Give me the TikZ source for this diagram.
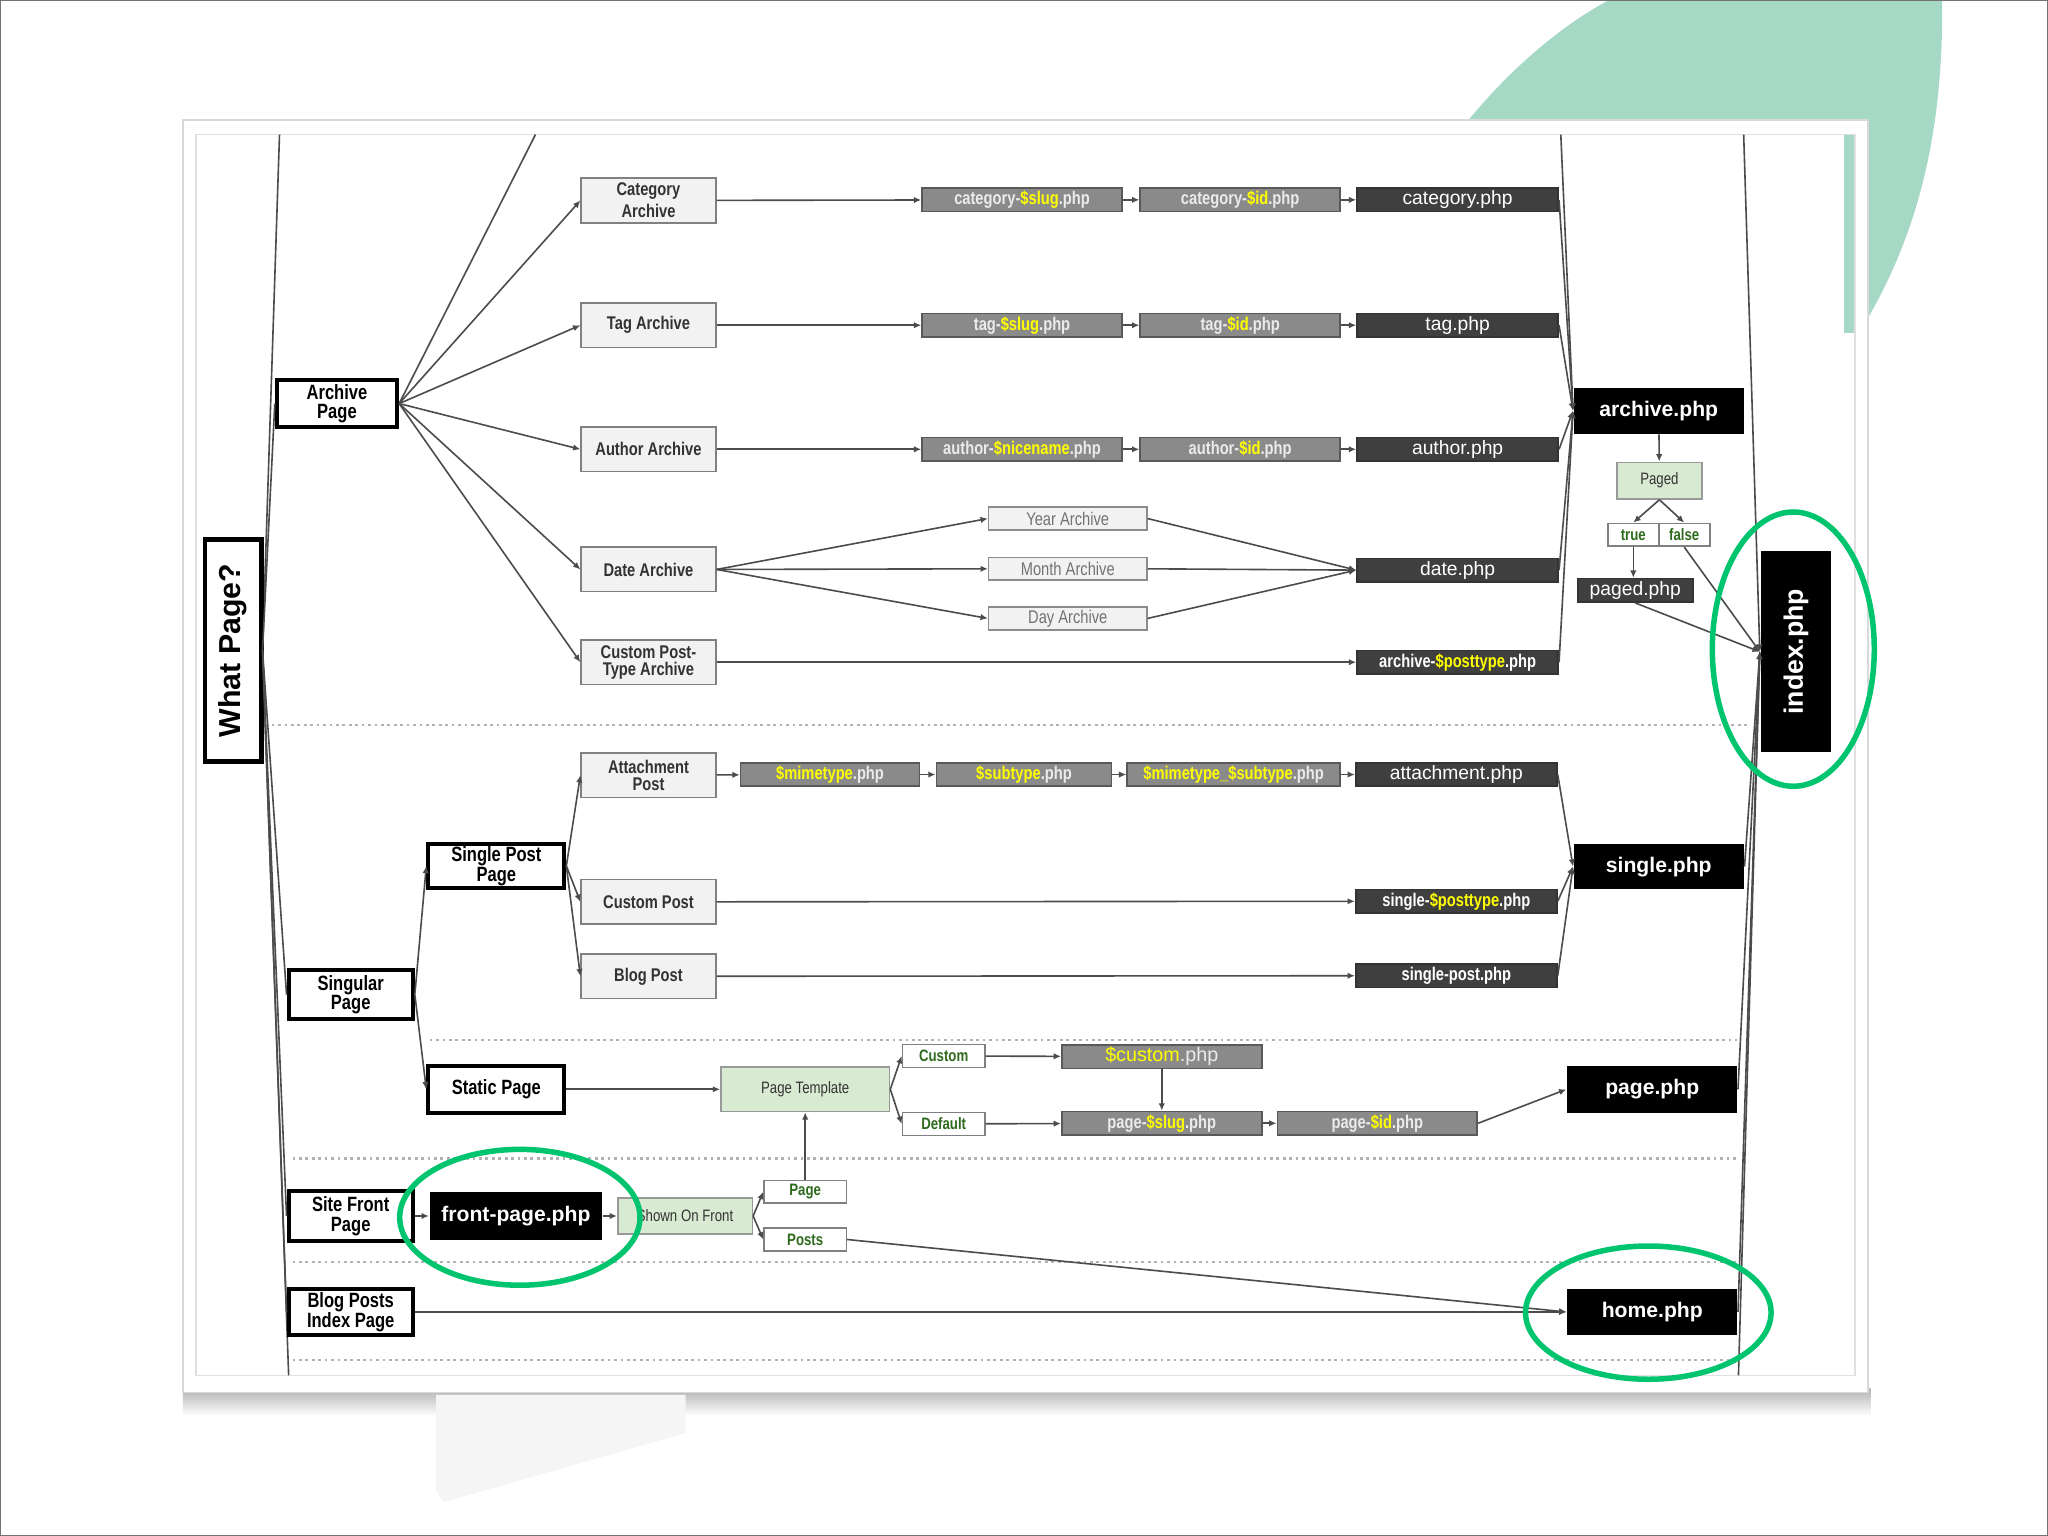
\documentclass[tikz,border=0pt]{standalone}
\usepackage{fontspec}
\usepackage{graphicx}
\setmainfont{Liberation Sans}
\newfontfamily\narrowfont[FakeStretch=0.8]{Liberation Sans}
\usetikzlibrary{arrows.meta}
\definecolor{teal1}{HTML}{A6D8C6}
\definecolor{ltgray}{HTML}{F2F2F2}
\definecolor{tplgray}{HTML}{8A8A8A}
\definecolor{tpldk}{HTML}{3F3F3F}
\definecolor{palegreen}{HTML}{D9EAD3}
\definecolor{txtgreen}{HTML}{2F6B1E}
\definecolor{hiyellow}{HTML}{FFFF00}
\definecolor{markgreen}{HTML}{00C46E}
\newcommand{\yl}[1]{\textcolor{hiyellow}{#1}}
\newcommand{\fsz}[2]{\fontsize{#1}{#2}\selectfont}

\begin{document}
\begin{tikzpicture}[x=0.01cm,y=-0.01cm,line width=0.35pt,>={Latex[length=1.6pt,width=1.4pt]},
    con/.style={draw=black!70,->},
    lnk/.style={draw=black!70},
    sep/.style={draw=black!30,line width=0.5pt,dash pattern=on 0.6pt off 0.8pt},
    lbox/.style={draw,line width=0.9pt,fill=white,inner sep=0pt,align=center,minimum width=0.95cm,minimum height=0.36cm,font=\narrowfont\bfseries\fsz{4.5}{4.3}},
    archbox/.style={draw=black!50,fill=ltgray,inner sep=0pt,align=center,minimum width=1.03cm,minimum height=0.34cm,text=black!80,font=\narrowfont\bfseries\fsz{4}{3.7}},
    datebox/.style={draw=black!45,fill=ltgray,inner sep=0pt,minimum width=1.21cm,minimum height=0.175cm,text=black!55,font=\narrowfont\fsz{4}{4}},
    tpl/.style={draw=black!65,fill=tplgray,inner sep=0pt,minimum width=1.53cm,minimum height=0.18cm,text=white!92!black,font=\narrowfont\bfseries\fsz{4}{4}},
    tpldark/.style={draw=black!80,fill=tpldk,inner sep=0pt,minimum width=1.54cm,minimum height=0.18cm,text=white,font=\fsz{4.2}{4.2}},
    tpldkn/.style={tpldark,font=\narrowfont\bfseries\fsz{4}{4}},
    blk/.style={fill=black,inner sep=0pt,minimum width=1.30cm,minimum height=0.35cm,text=white,font=\bfseries\fsz{4.6}{4.6}},
    grnbox/.style={draw=black!40,fill=palegreen,inner sep=0pt,text=black!80,font=\narrowfont\fsz{3.6}{3.6}},
    optbox/.style={draw=black!50,fill=white,inner sep=0pt,minimum width=0.63cm,minimum height=0.175cm,text=txtgreen,font=\narrowfont\bfseries\fsz{3.6}{3.6}},
    ring/.style={draw=markgreen,line width=1.2pt}]

\useasboundingbox (0,0) rectangle (1568,1176);
\fill[white] (0,0) rectangle (1568,1176);
\fill[teal1] (1090,140) .. controls (1130,75) and (1185,25) .. (1232,0) -- (1487,0) .. controls (1488,110) and (1465,190) .. (1420,260) -- (1090,260) -- cycle;
\shade[top color=black!30,bottom color=white] (140,1063) rectangle (1432,1084);
\fill[black!4] (334,1068) -- (334,1142) -- (340,1150) -- (525,1097) -- (525,1068) -- cycle;
\filldraw[fill=white,draw=black!15] (140,92) rectangle (1430,1066);
\fill[teal1] (1412,103) rectangle (1421,255);
\draw[black!12] (150,103) rectangle (1420,1053);
\draw[black!55,line width=0.6pt] (0,0) rectangle (1568,1176);

\draw[sep] (208,555) -- (1340,555);
\draw[sep] (329,796) -- (1330,796);
\draw[sep] (224,887) -- (1330,887);
\draw[sep] (224,966) -- (1330,966);
\draw[sep] (224,1041) -- (1330,1041);

\coordinate (wpe) at (201,498);
\coordinate (wptop) at (214,103);
\coordinate (wpbot) at (221,1053);
\coordinate (fantop) at (410,103);
\coordinate (arctop) at (1195,103);
\coordinate (idxtop) at (1335,103);
\coordinate (idxbot) at (1331,1053);

\draw[lnk] (wpe) -- (wptop);
\draw[lnk] (wpe) -- (wpbot);

\node[lbox,minimum width=0.43cm,minimum height=1.70cm,line width=1pt,font=\bfseries\fsz{6.6}{6.6}] (whatpage) at (178.5,498) {\rotatebox{90}{What Page?}};
\node[lbox,minimum width=0.92cm] (archivepage) at (258,309) {Archive\\Page};
\node[lbox,minimum height=0.37cm] (singular) at (268.5,761.5) {Singular\\Page};
\node[lbox,minimum height=0.38cm] (sitefront) at (268.5,931) {Site Front\\Page};
\node[lbox,minimum height=0.35cm] (blogposts) at (268.5,1004.5) {Blog Posts\\Index Page};
\node[lbox,minimum width=1.04cm,minimum height=0.34cm] (singlepost) at (380,663) {Single Post\\Page};
\node[lbox,minimum width=1.04cm] (staticpage) at (380,834) {Static Page};

\node[archbox] (catarch) at (496.5,153.5) {Category\\Archive};
\node[archbox] (tagarch) at (496.5,249) {Tag Archive};
\node[archbox] (autharch) at (496.5,344) {Author Archive};
\node[archbox] (datearch) at (496.5,436) {Date Archive};
\node[archbox] (cptarch) at (496.5,507) {Custom Post-\\Type Archive};
\node[archbox] (attpost) at (496.5,593.5) {Attachment\\Post};
\node[archbox] (custompost) at (496.5,690.5) {Custom Post};
\node[archbox] (blogpost) at (496.5,747.5) {Blog Post};

\node[datebox] (yeararch) at (817.5,397) {Year Archive};
\node[datebox] (montharch) at (817.5,435.5) {Month Archive};
\node[datebox] (dayarch) at (817.5,473.5) {Day Archive};

\node[tpl] (catslug) at (782.5,153) {category-\yl{\$slug}.php};
\node[tpl] (catid) at (949.5,153) {category-\yl{\$id}.php};
\node[tpldark] (catphp) at (1116,153) {category.php};
\node[tpl] (tagslug) at (782.5,249) {tag-\yl{\$slug}.php};
\node[tpl] (tagid) at (949.5,249) {tag-\yl{\$id}.php};
\node[tpldark] (tagphp) at (1116,249) {tag.php};
\node[tpl] (authnice) at (782.5,344) {author-\yl{\$nicename}.php};
\node[tpl] (authid) at (949.5,344) {author-\yl{\$id}.php};
\node[tpldark] (authphp) at (1116,344) {author.php};
\node[tpldark] (datephp) at (1116,436.5) {date.php};
\node[tpldkn] (archpt) at (1116,507) {archive-\yl{\$posttype}.php};

\node[tpl,minimum width=1.37cm] (mimephp) at (635.5,593) {\yl{\$mimetype}.php};
\node[tpl,minimum width=1.34cm] (subtypephp) at (784,593) {\yl{\$subtype}.php};
\node[tpl,minimum width=1.63cm] (mimesubphp) at (944.5,593) {\yl{\$mimetype\_\$subtype}.php};
\node[tpldark] (attphp) at (1115,593) {attachment.php};
\node[tpldkn] (singlept) at (1115,690) {single-\yl{\$posttype}.php};
\node[tpldkn] (singlepostphp) at (1115,747) {single-post.php};

\node[blk] (archivephp) at (1270,314.5) {archive.php};
\node[grnbox,minimum width=0.65cm,minimum height=0.28cm] (paged) at (1270.5,368) {Paged};
\node[optbox,minimum width=0.39cm] (truebox) at (1250.5,409.5) {true};
\node[optbox,minimum width=0.39cm] (falsebox) at (1289.5,409.5) {false};
\node[tpldark,minimum width=0.88cm] (pagedphp) at (1252,452) {paged.php};
\node[blk,minimum width=0.54cm,minimum height=1.54cm,font=\bfseries\fsz{5.8}{5.8}] (indexphp) at (1375,499) {\rotatebox{90}{index.php}};
\node[blk] (singlephp) at (1270,663.5) {single.php};
\node[blk,minimum height=0.36cm] (pagephp) at (1265,834) {page.php};
\node[blk] (homephp) at (1265,1004.5) {home.php};

\node[grnbox,minimum width=1.29cm,minimum height=0.34cm] (pagetemplate) at (616.5,834) {Page Template};
\node[optbox] (custombox) at (722.5,808.5) {Custom};
\node[optbox] (defaultbox) at (722.5,860.5) {Default};
\node[tpl,font=\fsz{4.3}{4.3}] (customphp) at (889.5,809) {\yl{\$custom}.php};
\node[tpl] (pageslug) at (889.5,860) {page-\yl{\$slug}.php};
\node[tpl] (pageid) at (1054.5,860) {page-\yl{\$id}.php};

\node[blk,minimum width=1.32cm,minimum height=0.36cm] (frontpage) at (395,931) {front-page.php};
\node[grnbox,minimum width=1.03cm,minimum height=0.28cm] (shownonfront) at (524.5,931) {Shown On Front};
\node[optbox] (pagebox) at (616.5,912.5) {Page};
\node[optbox] (postsbox) at (616.5,949) {Posts};

\foreach \n in {archivepage,singular,sitefront,blogposts}
  \draw[lnk] (wpe) -- (\n.west);
\draw[lnk] (archivepage.east) -- (fantop);
\foreach \n in {catarch,tagarch,autharch,datearch,cptarch}
  \draw[con] (archivepage.east) -- (\n.west);
\draw[con] (catarch) -- (catslug);
\draw[con] (catslug) -- (catid);
\draw[con] (catid) -- (catphp);
\draw[con] (tagarch) -- (tagslug);
\draw[con] (tagslug) -- (tagid);
\draw[con] (tagid) -- (tagphp);
\draw[con] (autharch) -- (authnice);
\draw[con] (authnice) -- (authid);
\draw[con] (authid) -- (authphp);
\foreach \n in {yeararch,montharch,dayarch} {
  \draw[con] (datearch.east) -- (\n.west);
  \draw[con] (\n.east) -- (datephp.west);
}
\draw[con] (cptarch) -- (archpt);
\draw[con] (arctop) -- (archivephp.west);
\foreach \n in {catphp,tagphp,authphp,datephp,archpt}
  \draw[con] (\n.east) -- (archivephp.west);

\draw[con] (archivephp) -- (paged);
\draw[con] (paged.south) -- (truebox.north);
\draw[con] (paged.south) -- (falsebox.north);
\draw[con] (truebox.south) -- (truebox.south |- pagedphp.north);
\draw[con] (idxtop) -- (indexphp.west);
\draw[con] (falsebox.south) -- (indexphp.west);
\draw[con] (pagedphp.south) -- (indexphp.west);
\draw[lnk] (indexphp.west) -- (idxbot);

\draw[con] (singular.east) -- (singlepost.west);
\draw[con] (singular.east) -- (staticpage.west);
\foreach \n in {attpost,custompost,blogpost}
  \draw[con] (singlepost.east) -- (\n.west);
\draw[con] (attpost) -- (mimephp);
\draw[con] (mimephp) -- (subtypephp);
\draw[con] (subtypephp) -- (mimesubphp);
\draw[con] (mimesubphp) -- (attphp);
\draw[con] (custompost) -- (singlept);
\draw[con] (blogpost) -- (singlepostphp);
\foreach \n in {attphp,singlept,singlepostphp}
  \draw[con] (\n.east) -- (singlephp.west);
\foreach \n in {singlephp,pagephp,homephp}
  \draw[con] (\n.east) -- (indexphp.west);

\draw[con] (staticpage) -- (pagetemplate);
\draw[con] (pagetemplate.east) -- (custombox.west);
\draw[con] (pagetemplate.east) -- (defaultbox.west);
\draw[con] (custombox) -- (customphp);
\draw[con] (defaultbox) -- (pageslug);
\draw[con] (customphp) -- (pageslug);
\draw[con] (pageslug) -- (pageid);
\draw[con] (pageid.east) -- (pagephp.west);

\draw[con] (sitefront) -- (frontpage);
\draw[con] (frontpage) -- (shownonfront);
\draw[con] (shownonfront.east) -- (pagebox.west);
\draw[con] (shownonfront.east) -- (postsbox.west);
\draw[con] (pagebox) -- (pagetemplate);
\draw[con] (postsbox.east) -- (homephp.west);
\draw[con] (blogposts) -- (homephp);

\draw[ring] (1373,497) ellipse [x radius=62, y radius=105];
\draw[ring] (398,932) ellipse [x radius=92, y radius=52];
\draw[ring] (1262,1005) ellipse [x radius=94, y radius=51];
\end{tikzpicture}
\end{document}
